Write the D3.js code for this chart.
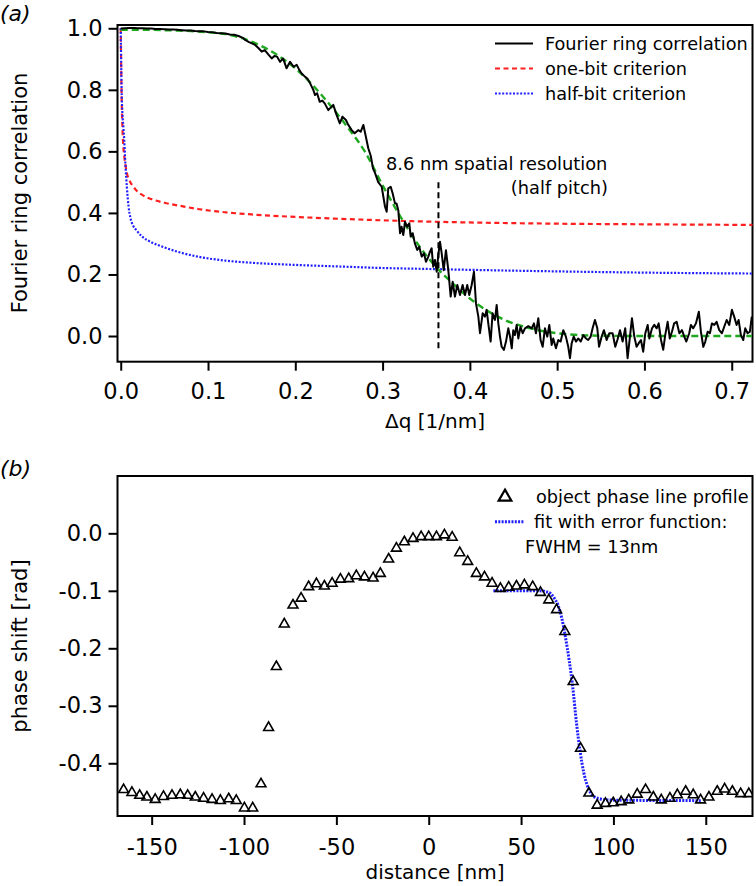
<!DOCTYPE html>
<html><head><meta charset="utf-8">
<script src="https://cdn.jsdelivr.net/npm/d3@7"></script>
<style>
html,body{margin:0;padding:0;background:#fff;}
svg{display:block;}
text{font-family:"DejaVu Sans",sans-serif;fill:#000;}
</style></head><body>
<svg id="chart" width="756" height="886"></svg>
<script>
// ---------------- data: panel (a) ----------------
const frcXTicks = [0, 0.1, 0.2, 0.3, 0.4, 0.5, 0.6, 0.7];
const frcYTicks = [0, 0.2, 0.4, 0.6, 0.8, 1.0];
// Fourier ring correlation [q, value]
const frcData = [
[0,0.999],[0.005,1.0],[0.01,1.001],[0.015,1.001],[0.02,1.0],[0.025,1.0],[0.03,0.999],[0.035,0.999],[0.04,0.998],[0.045,0.998],
[0.05,0.997],[0.055,0.996],[0.06,0.996],[0.065,0.995],[0.07,0.994],[0.075,0.993],[0.08,0.993],[0.085,0.991],[0.09,0.99],[0.095,0.99],
[0.1,0.988],[0.105,0.987],[0.11,0.985],[0.115,0.984],[0.12,0.983],[0.125,0.98],[0.13,0.979],[0.135,0.975],[0.1405,0.968],
[0.1425,0.962],[0.147,0.955],[0.151,0.95],[0.154,0.946],[0.158,0.935],[0.1615,0.924],[0.165,0.929],[0.169,0.915],[0.173,0.902],[0.176,0.91],
[0.179,0.908],[0.1825,0.891],[0.186,0.902],[0.19,0.87],[0.194,0.891],[0.198,0.875],[0.2016,0.881],[0.204,0.868],[0.207,0.854],[0.211,0.843],
[0.214,0.836],[0.217,0.821],[0.2206,0.8],[0.2226,0.783],[0.225,0.789],[0.228,0.761],[0.231,0.765],[0.2337,0.756],[0.2378,0.734],[0.2435,0.751],
[0.2474,0.718],[0.251,0.691],[0.254,0.713],[0.258,0.702],[0.2607,0.686],[0.2646,0.669],[0.268,0.659],[0.272,0.669],[0.275,0.664],[0.278,0.686],
[0.28,0.659],[0.2836,0.61],[0.2865,0.585],[0.289,0.545],[0.2913,0.53],[0.295,0.5],[0.299,0.485],[0.3028,0.42],[0.3047,0.404],[0.3065,0.48],
[0.3093,0.485],[0.3115,0.464],[0.3142,0.431],[0.316,0.431],[0.318,0.409],[0.32,0.334],[0.3218,0.355],[0.3237,0.328],[0.3257,0.371],[0.3283,0.355],
[0.3306,0.366],[0.3322,0.323],[0.3345,0.334],[0.337,0.301],[0.3397,0.28],[0.342,0.29],[0.3448,0.258],[0.3474,0.269],[0.3497,0.241],[0.3524,0.258],
[0.3543,0.274],[0.3562,0.285],[0.358,0.225],[0.36,0.247],[0.362,0.209],[0.3638,0.263],[0.3658,0.306],[0.3677,0.269],[0.37,0.214],[0.3726,0.279],
[0.3753,0.214],[0.378,0.128],[0.3803,0.176],[0.3829,0.128],[0.3856,0.166],[0.3887,0.133],[0.3917,0.166],[0.3944,0.133],[0.397,0.166],[0.3993,0.133],
[0.402,0.165],[0.4047,0.209],[0.407,0.106],[0.4097,0.063],[0.4116,0.009],[0.4147,0.074],[0.4173,0.063],[0.4192,0.085],[0.4211,0.041],[0.4238,-0.018],
[0.426,0.074],[0.4287,0.052],[0.4307,0.101],[0.4326,0.041],[0.4345,-0.002],[0.4364,-0.035],[0.439,-0.045],[0.4414,-0.018],[0.444,0.025],[0.446,-0.002],
[0.448,-0.04],[0.4497,0.019],[0.4516,0.003],[0.4536,0.036],[0.4555,-0.008],[0.458,0.03],[0.4605,0.009],[0.4631,0.025],[0.467,0.032],[0.4708,0.025],
[0.4734,0.041],[0.4757,0.009],[0.4784,0.058],[0.481,-0.013],[0.4834,-0.035],[0.486,0.025],[0.4887,-0.002],[0.491,0.036],[0.4937,-0.029],[0.4955,-0.008],
[0.4986,-0.04],[0.5013,-0.013],[0.504,-0.018],[0.507,0.019],[0.51,-0.002],[0.5127,-0.035],[0.5147,-0.072],[0.5166,-0.024],[0.519,-0.002],[0.5216,-0.018],
[0.5242,-0.008],[0.527,-0.018],[0.53,0.003],[0.533,-0.008],[0.5356,-0.013],[0.5384,-0.002],[0.5406,0.025],[0.5433,0.052],[0.546,0.025],[0.548,-0.035],
[0.551,-0.002],[0.5536,0.019],[0.5567,-0.013],[0.5597,0.009],[0.5635,0.009],[0.5666,-0.035],[0.569,-0.013],[0.572,0.019],[0.575,-0.018],[0.578,0.025],
[0.5807,-0.072],[0.5834,-0.002],[0.5857,0.058],[0.5884,-0.002],[0.591,-0.035],[0.5933,-0.024],[0.596,-0.013],[0.5986,-0.051],[0.601,0.009],[0.6037,0.036],
[0.6056,-0.008],[0.6087,0.025],[0.6113,0.036],[0.614,0.025],[0.6163,0.041],[0.619,-0.013],[0.6215,-0.045],[0.6238,0.003],[0.6266,0.046],[0.629,-0.008],
[0.6315,0.014],[0.634,0.041],[0.6369,0.046],[0.64,0.009],[0.643,0.019],[0.6456,-0.002],[0.648,-0.018],[0.6513,0.009],[0.6532,0.036],[0.6559,0.025],
[0.659,0.041],[0.6623,0.079],[0.6647,0.014],[0.6674,-0.035],[0.6697,-0.018],[0.6724,0.014],[0.675,0.009],[0.6773,0.041],[0.68,0.036],[0.6827,0.046],
[0.6857,0.019],[0.6888,0.009],[0.6914,0.03],[0.6942,0.052],[0.6972,0.036],[0.7002,0.085],[0.7028,0.063],[0.7056,0.036],[0.7079,0.052],[0.7105,0.003],
[0.7132,-0.013],[0.7155,0.025],[0.7182,0.009],[0.7208,0.014],[0.723,0.063]
];
// smooth fit (green dashed)
const fitQ = [0, 0.03, 0.06, 0.08, 0.10, 0.12, 0.14, 0.16, 0.18, 0.20, 0.22, 0.24, 0.26, 0.28, 0.30, 0.32, 0.34, 0.36, 0.38, 0.40, 0.42, 0.44, 0.46, 0.48, 0.50, 0.52, 0.55, 0.60, 0.723];
const fitV = [0.995, 0.995, 0.993, 0.991, 0.987, 0.981, 0.967, 0.944, 0.912, 0.870, 0.815, 0.750, 0.678, 0.598, 0.490, 0.390, 0.300, 0.228, 0.172, 0.122, 0.082, 0.052, 0.032, 0.018, 0.009, 0.004, 0.001, 0.0, 0.0];
// criteria
const critQ = [0, 0.001, 0.002, 0.003, 0.004, 0.0055, 0.007, 0.009, 0.011, 0.014, 0.018, 0.025, 0.035, 0.05, 0.07, 0.09, 0.12, 0.15, 0.2, 0.25, 0.3, 0.35, 0.4, 0.5, 0.6, 0.725];
const oneBit = [1.0, 0.78, 0.67, 0.615, 0.585, 0.555, 0.53, 0.512, 0.5, 0.487, 0.473, 0.458, 0.445, 0.433, 0.422, 0.412, 0.402, 0.395, 0.387, 0.381, 0.376, 0.372, 0.369, 0.365, 0.363, 0.361];
const halfBit = [1.0, 0.80, 0.72, 0.68, 0.637, 0.55, 0.485, 0.42, 0.385, 0.36, 0.344, 0.322, 0.305, 0.288, 0.27, 0.257, 0.245, 0.238, 0.231, 0.226, 0.221, 0.218, 0.215, 0.21, 0.206, 0.203];
const resQ = 0.364, resRange = [-0.05, 0.5];
const legendA = ["Fourier ring correlation", "one-bit criterion", "half-bit criterion"];

// ---------------- data: panel (b) ----------------
const phXTicks = [-150, -100, -50, 0, 50, 100, 150];
const phYTicks = [0, -0.1, -0.2, -0.3, -0.4];
const distance = [-165.2,-160.7,-156.5,-152.6,-148.1,-143.6,-139,-134.5,-130.5,-126.4,-121.9,-117.3,-112.8,-108.3,-104.2,-99.8,-95.3,-90.8,-86.7,
 -82.5,-78.2,-73.5,-69.1,-65,-60.8,-56.5,-52.3,-47.8,-43.3,-39.2,-34.8,-30.1,-26.2,
 -21.7,-17.5,-13.2,-8.5,-4.1,0,4.2,8.5,12.7,16.8,21.1,25.8,30.2,34.3,38.8,43.3,47.5,51.8,56.3,60.5,65,69.2,73.7,78.2,
 82.2,86.7,91.2,95.7,99.9,104.2,108.3,112.9,117.4,121.6,125.9,130.6,134.6,139.1,143.2,147.2,151.7,156.2,160.2,164.4,168.9,173.3];
const phase = [-0.446,-0.451,-0.456,-0.459,-0.463,-0.458,-0.456,-0.455,-0.456,-0.459,-0.461,-0.463,-0.465,-0.462,-0.465,-0.478,-0.478,-0.436,-0.338,
 -0.232,-0.158,-0.125,-0.113,-0.093,-0.088,-0.092,-0.087,-0.080,-0.079,-0.074,-0.076,-0.078,-0.070,
 -0.045,-0.026,-0.015,-0.009,-0.006,-0.006,-0.006,-0.003,-0.007,-0.034,-0.049,-0.070,-0.076,-0.087,-0.096,-0.094,-0.092,-0.090,-0.093,-0.103,-0.116,-0.133,-0.171,-0.258,
 -0.374,-0.452,-0.473,-0.470,-0.469,-0.467,-0.464,-0.454,-0.446,-0.459,-0.464,-0.461,-0.455,-0.449,-0.455,-0.464,-0.459,-0.449,-0.445,-0.449,-0.453,-0.453];
const erfD = [35, 60, 64, 66, 68, 70, 72, 74, 76, 78, 80, 82, 84, 86, 88, 90, 93, 98, 148];
const erfV = [-0.100, -0.100, -0.102, -0.105, -0.113, -0.125, -0.147, -0.18, -0.22, -0.268, -0.33, -0.38, -0.417, -0.44, -0.453, -0.459, -0.462, -0.464, -0.465];
const legendB = ["object phase line profile", "fit with error function:", "FWHM = 13nm"];

// ---------------- drawing ----------------
const svg = d3.select("#chart");
const RED = "#ff1f1f", BLUE = "#1f1fff", GREEN = "#20a820";
const FONT = '"DejaVu Sans", sans-serif';

function panel(opts) {
  const {x, y, xTicks, yTicks, fmtX, fmtY, xPad, id} = opts;
  const g = svg.append("g");
  const [x0, x1] = x.range(), [y0, y1] = y.range(); // y0 bottom, y1 top
  g.append("clipPath").attr("id", id).append("rect")
    .attr("x", x0).attr("y", y1).attr("width", x1 - x0).attr("height", y0 - y1);
  const yAx = g.append("g").attr("transform", `translate(${x0},0)`)
    .call(d3.axisLeft(y).tickValues(yTicks).tickSize(9).tickPadding(6).tickFormat(fmtY));
  const xAx = g.append("g").attr("transform", `translate(0,${y0})`)
    .call(d3.axisBottom(x).tickValues(xTicks).tickSize(9).tickPadding(xPad).tickFormat(fmtX));
  [yAx, xAx].forEach(a => {
    a.select(".domain").remove();
    a.attr("font-family", FONT).attr("font-size", 22.5);
    a.selectAll("line").attr("stroke", "#000").attr("stroke-width", 2);
    a.selectAll("text").attr("fill", "#000");
  });
  g.append("rect").attr("x", x0).attr("y", y1).attr("width", x1 - x0).attr("height", y0 - y1)
    .attr("fill", "none").attr("stroke", "#000").attr("stroke-width", 2);
  const plot = g.append("g").attr("clip-path", `url(#${id})`);
  return {g, plot};
}

// ===== Panel (a) =====
const ax = d3.scaleLinear().domain([-0.0037, 0.7238]).range([117.5, 752.5]);
const ay = d3.scaleLinear().domain([-0.0835, 1.0107]).range([361.7, 25]);
const A = panel({x: ax, y: ay, xTicks: frcXTicks, yTicks: frcYTicks,
  fmtX: d => d.toFixed(1), fmtY: d => d.toFixed(1), xPad: 12.5, id: "clipA"});

const lineSmooth = (xs, ys, sx, sy) => d3.line().curve(d3.curveMonotoneX)
  .x((d, i) => sx(xs[i])).y((d, i) => sy(ys[i]))(xs);

A.plot.append("path").attr("d", lineSmooth(critQ, oneBit, ax, ay))
  .attr("fill", "none").attr("stroke", RED).attr("stroke-width", 2.2).attr("stroke-dasharray", "5,3.5");
A.plot.append("path").attr("d", lineSmooth(critQ, halfBit, ax, ay))
  .attr("fill", "none").attr("stroke", BLUE).attr("stroke-width", 2.2).attr("stroke-dasharray", "2,1.6");
A.plot.append("path").attr("d", lineSmooth(fitQ, fitV, ax, ay))
  .attr("fill", "none").attr("stroke", GREEN).attr("stroke-width", 2.4).attr("stroke-dasharray", "7,4");
A.plot.append("path").datum(frcData)
  .attr("d", d3.line().x(d => ax(d[0])).y(d => ay(d[1])))
  .attr("fill", "none").attr("stroke", "#000").attr("stroke-width", 2).attr("stroke-linejoin", "round");
// resolution marker
A.g.append("line").attr("x1", ax(resQ)).attr("x2", ax(resQ)).attr("y1", ay(resRange[1])).attr("y2", ay(resRange[0]))
  .attr("stroke", "#000").attr("stroke-width", 2).attr("stroke-dasharray", "6,4");
A.g.append("text").attr("x", 386).attr("y", 170).attr("font-size", 17.8).text("8.6 nm spatial resolution");
A.g.append("text").attr("x", 608).attr("y", 193.5).attr("font-size", 17.8).attr("text-anchor", "end").text("(half pitch)");

// legend (a)
const legA = A.g.append("g");
const legStyles = [
  {c: "#000", dash: null},
  {c: RED, dash: "5,3.5"},
  {c: BLUE, dash: "2,1.6"}
];
legendA.forEach((t, i) => {
  const yy = 43.5 + i * 25;
  legA.append("line").attr("x1", 495).attr("x2", 533).attr("y1", yy).attr("y2", yy)
    .attr("stroke", legStyles[i].c).attr("stroke-width", 2.2).attr("stroke-dasharray", legStyles[i].dash);
  legA.append("text").attr("x", 545).attr("y", yy + 6.5).attr("font-size", 17.7).text(t);
});

// titles (a)
svg.append("text").attr("transform", "translate(27,193) rotate(-90)").attr("text-anchor", "middle")
  .attr("font-size", 21).text("Fourier ring correlation");
svg.append("text").attr("x", 435).attr("y", 428).attr("text-anchor", "middle").attr("font-size", 20).text("Δq [1/nm]");
svg.append("text").attr("x", 0).attr("y", 21).attr("font-family", '"Liberation Serif", serif')
  .attr("font-style", "italic").attr("font-size", 22).text("(a)");

// ===== Panel (b) =====
const bx = d3.scaleLinear().domain([-168.5, 175.3]).range([117.5, 752.5]);
const by = d3.scaleLinear().domain([-0.4917, 0.0997]).range([816, 476]);
const B = panel({x: bx, y: by, xTicks: phXTicks, yTicks: phYTicks,
  fmtX: d => String(d), fmtY: d => d.toFixed(1), xPad: 14, id: "clipB"});

B.plot.append("path").attr("d", lineSmooth(erfD, erfV, bx, by))
  .attr("fill", "none").attr("stroke", BLUE).attr("stroke-width", 3).attr("stroke-dasharray", "2,1.3");
const tri = d3.symbol().type(d3.symbolTriangle).size(42);
B.plot.selectAll("path.pt").data(distance).join("path").attr("class", "pt")
  .attr("d", tri).attr("transform", (d, i) => `translate(${bx(d)},${by(phase[i])})`)
  .attr("fill", "none").attr("stroke", "#000").attr("stroke-width", 1.6);

// legend (b)
const legB = B.g.append("g");
legB.append("path").attr("d", d3.symbol().type(d3.symbolTriangle).size(70)())
  .attr("transform", "translate(505,497)").attr("fill", "none").attr("stroke", "#000").attr("stroke-width", 2.2);
legB.append("text").attr("x", 536).attr("y", 503).attr("font-size", 17.7).text(legendB[0]);
legB.append("line").attr("x1", 495).attr("x2", 524).attr("y1", 521.7).attr("y2", 521.7)
  .attr("stroke", BLUE).attr("stroke-width", 3).attr("stroke-dasharray", "2,1.3");
legB.append("text").attr("x", 534).attr("y", 528).attr("font-size", 17.7).text(legendB[1]);
legB.append("text").attr("x", 525).attr("y", 552.5).attr("font-size", 17.7).text(legendB[2]);

// titles (b)
svg.append("text").attr("transform", "translate(27,646) rotate(-90)").attr("text-anchor", "middle")
  .attr("font-size", 21).text("phase shift [rad]");
svg.append("text").attr("x", 435).attr("y", 879).attr("text-anchor", "middle").attr("font-size", 20).text("distance [nm]");
svg.append("text").attr("x", 0).attr("y", 476).attr("font-family", '"Liberation Serif", serif')
  .attr("font-style", "italic").attr("font-size", 22).text("(b)");
</script>
</body></html>
